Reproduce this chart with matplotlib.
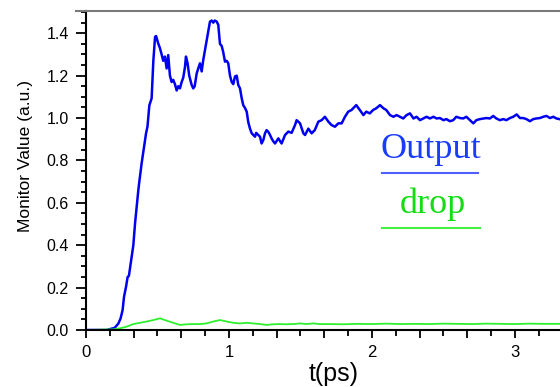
import numpy as np
import matplotlib
matplotlib.use("Agg")
import matplotlib.pyplot as plt
from matplotlib.ticker import MultipleLocator, FuncFormatter

# ------------------------------------------------------------
# data
# ------------------------------------------------------------

t_out = [0.0, 0.144, 0.20, 0.226, 0.242, 0.256, 0.266, 0.28, 0.291, 0.30,
         0.319, 0.331, 0.343, 0.354, 0.366, 0.373, 0.389, 0.406, 0.42, 0.43,
         0.443, 0.459, 0.471, 0.483, 0.49, 0.506, 0.517, 0.529, 0.54, 0.552,
         0.564, 0.575, 0.587, 0.599, 0.61, 0.622, 0.634, 0.645, 0.657, 0.669,
         0.68, 0.692, 0.699, 0.71, 0.722, 0.739, 0.75, 0.76, 0.774, 0.785,
         0.797, 0.809, 0.82, 0.832, 0.844, 0.855, 0.867, 0.879, 0.89, 0.90,
         0.914, 0.925, 0.937, 0.949, 0.96, 0.972, 0.984, 0.995, 1.007, 1.019,
         1.03, 1.042, 1.054, 1.065, 1.077, 1.089, 1.10, 1.11, 1.124, 1.135,
         1.147, 1.159, 1.17, 1.182, 1.19, 1.205, 1.217, 1.228, 1.24, 1.252,
         1.263, 1.275, 1.287, 1.298, 1.31, 1.322, 1.345, 1.368, 1.392, 1.415,
         1.438, 1.462, 1.473, 1.497, 1.52, 1.532, 1.555, 1.578, 1.60, 1.625,
         1.648, 1.671, 1.695, 1.717, 1.741, 1.765, 1.788, 1.811, 1.834, 1.857,
         1.89, 1.915, 1.94, 1.96, 1.985, 2.008, 2.03, 2.056, 2.08, 2.10,
         2.126, 2.15, 2.172, 2.196, 2.219, 2.242, 2.266, 2.29, 2.312, 2.336,
         2.359, 2.382, 2.405, 2.43, 2.452, 2.475, 2.50, 2.52, 2.545, 2.568,
         2.59, 2.615, 2.638, 2.66, 2.685, 2.709, 2.73, 2.755, 2.78, 2.80,
         2.825, 2.848, 2.87, 2.895, 2.918, 2.94, 2.965, 2.988, 3.012, 3.035,
         3.058, 3.08, 3.105, 3.128, 3.15, 3.175, 3.198, 3.22, 3.245, 3.268,
         3.29, 3.31]
v_out = [0.0, 0.0, 0.01, 0.03, 0.055, 0.094, 0.157, 0.204, 0.25, 0.255,
         0.346, 0.40, 0.503, 0.58, 0.66, 0.70, 0.786, 0.865, 0.928, 0.96,
         1.06, 1.093, 1.27, 1.383, 1.387, 1.35, 1.33, 1.30, 1.27, 1.29,
         1.234, 1.297, 1.20, 1.17, 1.18, 1.16, 1.13, 1.15, 1.14, 1.17,
         1.19, 1.24, 1.29, 1.26, 1.20, 1.156, 1.14, 1.15, 1.21, 1.234,
         1.258, 1.22, 1.274, 1.32, 1.368, 1.41, 1.455, 1.46, 1.45, 1.46,
         1.455, 1.44, 1.35, 1.34, 1.31, 1.266, 1.27, 1.258, 1.20, 1.17,
         1.16, 1.196, 1.20, 1.156, 1.14, 1.093, 1.06, 1.05, 1.03, 0.98,
         0.95, 0.928, 0.92, 0.912, 0.93, 0.92, 0.912, 0.88, 0.896, 0.928,
         0.943, 0.935, 0.92, 0.904, 0.89, 0.88, 0.904, 0.88, 0.92, 0.936,
         0.93, 0.967, 0.99, 0.975, 0.928, 0.92, 0.95, 0.928, 0.943, 0.983,
         0.99, 1.006, 0.983, 0.967, 0.959, 0.975, 0.975, 1.006, 1.03, 1.038,
         1.061, 1.038, 1.014, 1.03, 1.022, 1.038, 1.046, 1.061, 1.046, 1.038,
         1.014, 1.006, 1.014, 1.006, 0.998, 1.014, 1.022, 0.998, 1.006, 0.99,
         0.998, 1.006, 0.998, 1.006, 0.998, 1.0, 0.99, 0.995, 0.985, 0.99,
         1.006, 1.0, 0.998, 1.006, 0.99, 0.975, 0.99, 0.995, 0.998, 1.0,
         0.998, 1.01, 0.998, 0.99, 0.995, 0.99, 1.0, 1.006, 1.017, 1.0,
         1.0, 0.995, 0.985, 0.995, 0.998, 1.0, 1.006, 1.01, 1.0, 1.006,
         0.998, 0.995]

t_drop = [0.0, 0.19, 0.238, 0.285, 0.331, 0.378, 0.424, 0.471, 0.517, 0.564,
          0.61, 0.657, 0.704, 0.75, 0.797, 0.843, 0.89, 0.937, 0.983, 1.03,
          1.077, 1.124, 1.17, 1.217, 1.263, 1.31, 1.357, 1.40, 1.45, 1.50,
          1.54, 1.59, 1.63, 1.70, 1.80, 1.90, 2.00, 2.10, 2.20, 2.30,
          2.40, 2.50, 2.60, 2.70, 2.80, 2.90, 3.00, 3.10, 3.20, 3.31]
v_drop = [0.0, 0.003, 0.008, 0.016, 0.028, 0.034, 0.04, 0.047, 0.055, 0.044,
          0.034, 0.024, 0.027, 0.028, 0.028, 0.031, 0.04, 0.047, 0.04, 0.034,
          0.031, 0.034, 0.031, 0.028, 0.024, 0.027, 0.028, 0.027, 0.028, 0.031,
          0.028, 0.031, 0.028, 0.028, 0.027, 0.029, 0.028, 0.030, 0.028, 0.029,
          0.028, 0.030, 0.029, 0.028, 0.030, 0.029, 0.028, 0.030, 0.029, 0.029]

x_label = "t(ps)"
y_label = "Monitor Value (a.u.)"
names = ["Output", "drop"]

# ------------------------------------------------------------
# figure
# ------------------------------------------------------------

plt.rcParams['font.family'] = ['Liberation Sans', 'DejaVu Sans']

fig = plt.figure(figsize=(5.6, 3.87), dpi=100)
ax = fig.add_axes([86/560, 1 - 330/387, 1 - 86/560, (330 - 11)/387])

ax.plot(t_out, v_out, color='#0000f0', lw=1.8)
ax.plot(t_drop, v_drop, color='#2ef02e', lw=1.3)

ax.set_xlim(0, 3.315)
ax.set_ylim(0, 1.505)

ax.xaxis.set_major_locator(MultipleLocator(1/3))
ax.xaxis.set_minor_locator(MultipleLocator(1/6))
ax.xaxis.set_major_formatter(FuncFormatter(
    lambda x, p: "%d" % round(x) if abs(x - round(x)) < 1e-6 else ""))
ax.yaxis.set_major_locator(MultipleLocator(0.2))
ax.yaxis.set_minor_locator(MultipleLocator(0.05))
ax.yaxis.set_major_formatter(FuncFormatter(lambda y, p: "%.1f" % y))

ax.tick_params(axis='x', which='major', length=6, width=1.3, labelsize=12, pad=5)
ax.tick_params(axis='x', which='minor', length=4, width=1.3)
ax.tick_params(axis='y', which='major', length=7.5, width=1.3, labelsize=11.5, pad=5)
ax.tick_params(axis='y', which='minor', length=3.8, width=1.3)

ax.spines['right'].set_visible(False)
ax.spines['top'].set_color('#7a7a7a')
ax.spines['top'].set_linewidth(1.5)
ax.spines['left'].set_linewidth(1.5)
ax.spines['bottom'].set_linewidth(1.5)
# the grey top frame line sticks out a little to the left
ax.plot([-10/474, 0], [1, 1], transform=ax.transAxes, color='#7a7a7a', lw=1.5,
        clip_on=False)

ax.set_xlabel(x_label, fontsize=18)
ax.xaxis.set_label_coords(0.523, -0.1)
ax.set_ylabel(y_label, fontsize=12.5, family=['Liberation Sans Narrow', 'Liberation Sans'])
ax.yaxis.set_label_coords(-0.112, 0.545)

# legend-like labels
ax.text(0.728, 0.539, names[0], transform=ax.transAxes, ha='center', va='baseline',
        fontsize=26, family='Liberation Serif', color='#1a3cff')
ax.plot([0.624, 0.827], [0.492, 0.492], transform=ax.transAxes, color='#5060ff', lw=1.5)
ax.text(0.732, 0.367, names[1], transform=ax.transAxes, ha='center', va='baseline',
        fontsize=26, family='Liberation Serif', color='#11dd11')
ax.plot([0.624, 0.831], [0.320, 0.320], transform=ax.transAxes, color='#44ee44', lw=1.5)

fig.savefig("out.png", dpi=100)
